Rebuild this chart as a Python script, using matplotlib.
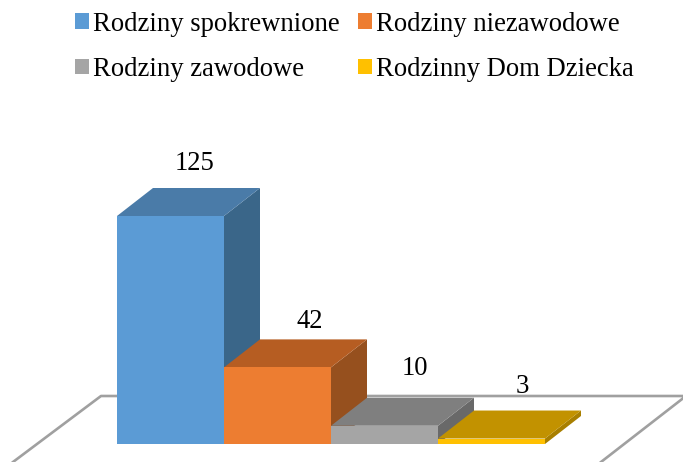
import matplotlib
matplotlib.use("Agg")
import matplotlib.pyplot as plt
from matplotlib.lines import Line2D
from matplotlib.patches import Patch, Polygon

categories = ["Rodziny spokrewnione", "Rodziny niezawodowe", "Rodziny zawodowe", "Rodzinny Dom Dziecka"]
values = [125, 42, 10, 3]
front_colors = ["#5B9BD5", "#ED7D31", "#A5A5A5", "#FFC000"]
top_colors = ["#4A7BA8", "#B65D22", "#7F7F7F", "#C29200"]
side_colors = ["#3A6689", "#96501E", "#696969", "#A87F00"]

W, H = 683, 462
plt.rcParams["font.family"] = ["Liberation Serif", "DejaVu Serif"]

fig = plt.figure(figsize=(W / 100, H / 100), dpi=100)
# axes box = front faces of the bars, so bars go through the data scale
ax = fig.add_axes([117 / W, (H - 444) / H, 428 / W, 228 / H])
ax.set_xlim(-0.5, 3.5)
ax.set_ylim(0, 125)
ax.axis("off")

px_x = 4 / 428      # data units per pixel
px_y = 125 / 228
dx = 36 * px_x      # depth of the 3d effect
dy = 28 * px_y

# floor outline
floor_x = [13, 101, 686, 601]
floor_y = [462, 396, 396, 462]
fig.add_artist(Line2D([x / W for x in floor_x], [1 - y / H for y in floor_y],
                      color="#A0A0A0", lw=1.9, zorder=0))

for i, v in enumerate(values):
    l, r = i - 0.5, i + 0.5
    front = [(l, 0), (r, 0), (r, v), (l, v)]
    top = [(l, v), (r, v), (r + dx, v + dy), (l + dx, v + dy)]
    side = [(r, 0), (r + dx, dy), (r + dx, v + dy), (r, v)]
    z = 3 + i
    ax.add_patch(Polygon(side, fc=side_colors[i], ec="none", clip_on=False, zorder=z))
    ax.add_patch(Polygon(top, fc=top_colors[i], ec="none", clip_on=False, zorder=z))
    ax.add_patch(Polygon(front, fc=front_colors[i], ec="none", clip_on=False, zorder=z))

label_dx = [24.5, 32, 30, 31]
label_dy = [53, 46, 57.5, 52.5]
for i, v in enumerate(values):
    ax.text(i + label_dx[i] * px_x, v + label_dy[i] * px_y, str(v), fontsize=19.2,
            ha="center", va="center", color="black", clip_on=False, zorder=10)

# legend fills column by column
order = [0, 2, 1, 3]
handles = [Patch(fc=front_colors[i], ec="none") for i in order]
labels = [categories[i] for i in order]
fig.legend(handles, labels, ncol=2, loc="upper left", bbox_to_anchor=(64 / W, 1 - 1 / H),
           frameon=False, fontsize=19.2, handlelength=0.52, handleheight=0.52,
           handletextpad=0.15, columnspacing=0.71, labelspacing=0.76,
           borderpad=0.4, borderaxespad=0)

fig.savefig("out.png", dpi=100)
